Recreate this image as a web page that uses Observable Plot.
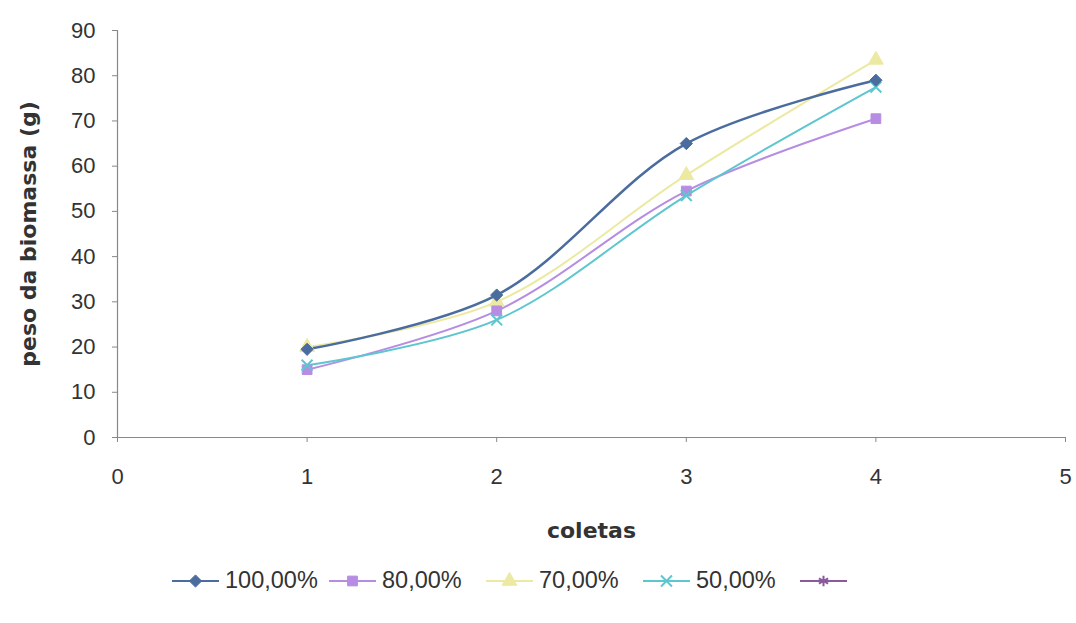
<!DOCTYPE html>
<html>
<head>
<meta charset="utf-8">
<script src="https://cdn.jsdelivr.net/npm/d3@7"></script>
<script src="https://cdn.jsdelivr.net/npm/@observablehq/plot@0.6"></script>
<style>
  body { margin: 0; background: #fff; font-family: "Liberation Sans", Arial, sans-serif; }
  #chart { width: 1076px; }
  .legend { display: flex; align-items: center; padding-left: 172px; margin-top: 22px; font-size: 23.5px; color: #333; }
  .legend .item { display: flex; align-items: center; width: 157px; flex: none; }
  .legend svg { margin-right: 6px; }
</style>
</head>
<body>
<div id="chart"></div>
<script>
const collections = [1, 2, 3, 4];
const seriesNames = ["100,00%", "80,00%", "70,00%", "50,00%", ""];
const s100 = [19.5, 31.5, 65, 79];
const s80 = [15, 28, 54.5, 70.5];
const s70 = [20, 30, 58, 83.5];
const s50 = [16, 26, 53.5, 77.5];
const s5 = [];
const seriesColors = ["#4a6c9e", "#b68de2", "#ece9a2", "#5ec6cf", "#8a5a9c"];
const seriesSymbols = ["diamond2", "square", "triangle", "times", "asterisk"];
const xTicks = [0, 1, 2, 3, 4, 5];
const yTicks = [0, 10, 20, 30, 40, 50, 60, 70, 80, 90];

const allSeries = [s100, s80, s70, s50, s5];
const rows = [];
allSeries.forEach((vals, i) => vals.forEach((v, j) => rows.push({serie: seriesNames[i], idx: i, x: collections[j], y: v})));

const labelFont = "DejaVu Sans, Verdana, sans-serif";

const plot = Plot.plot({
  width: 1076,
  height: 545,
  marginLeft: 117,
  marginRight: 11,
  marginTop: 30,
  marginBottom: 108,
  style: {fontFamily: "Liberation Sans, Arial, sans-serif", fontSize: "22px", color: "#333", background: "#fff", overflow: "visible"},
  x: {domain: [0, 5], ticks: xTicks, tickFormat: d3.format("d"), label: null},
  y: {domain: [0, 90], ticks: yTicks, tickFormat: d3.format("d"), label: null},
  marks: [
    Plot.ruleX([0], {stroke: "#888", strokeWidth: 1.2}),
    Plot.ruleY([0], {stroke: "#888", strokeWidth: 1.2}),
    Plot.axisX({ticks: xTicks, tickFormat: d3.format("d"), tickSize: 5, tickPadding: 26, stroke: "#888", fill: "#333", fontSize: 22, label: null}),
    Plot.axisY({ticks: yTicks, tickFormat: d3.format("d"), tickSize: 5, tickPadding: 17, stroke: "#888", fill: "#333", fontSize: 22, label: null}),
    ...[2, 1, 3, 0].map(i => Plot.line(rows.filter(r => r.idx === i), {x: "x", y: "y", stroke: seriesColors[i], strokeWidth: i === 0 ? 2.5 : 2, curve: "catmull-rom"})),
    ...[2, 1, 3, 0].map(i => Plot.dot(rows.filter(r => r.idx === i), {
      x: "x", y: "y", symbol: () => seriesSymbols[i], r: i === 3 ? 5 : 5.5,
      fill: i === 3 ? "none" : seriesColors[i], stroke: seriesColors[i], strokeWidth: i === 3 ? 2 : 1
    })),
    Plot.text(["coletas"], {frameAnchor: "bottom", dy: 100, text: d => d, fontWeight: "bold", fontSize: 22, fill: "#333", fontFamily: labelFont, letterSpacing: 2.5}),
    Plot.text(["peso da biomassa (g)"], {frameAnchor: "left", dx: -89, rotate: -90, textAnchor: "middle", text: d => d, fontWeight: "bold", fontSize: 22, fill: "#333", fontFamily: labelFont, letterSpacing: 1.5})
  ]
});
document.getElementById("chart").appendChild(plot);

// legend
const legend = document.createElement("div");
legend.className = "legend";
const symMap = {diamond2: d3.symbolDiamond2, square: d3.symbolSquare, triangle: d3.symbolTriangle, times: d3.symbolTimes, asterisk: d3.symbolAsterisk};
seriesNames.forEach((name, i) => {
  const item = document.createElement("div");
  item.className = "item";
  const path = d3.symbol(symMap[seriesSymbols[i]], i >= 3 ? 80 : 95)();
  const filled = i < 3;
  item.innerHTML = `<svg width="47" height="20"><line x1="0" x2="47" y1="10" y2="10" stroke="${seriesColors[i]}" stroke-width="2"/>` +
    `<path d="${path}" transform="translate(23.5,10)" fill="${filled ? seriesColors[i] : "none"}" stroke="${seriesColors[i]}" stroke-width="${filled ? 1 : 2}"/></svg>` +
    `<span>${name}</span>`;
  legend.appendChild(item);
});
document.body.appendChild(legend);
</script>
</body>
</html>
